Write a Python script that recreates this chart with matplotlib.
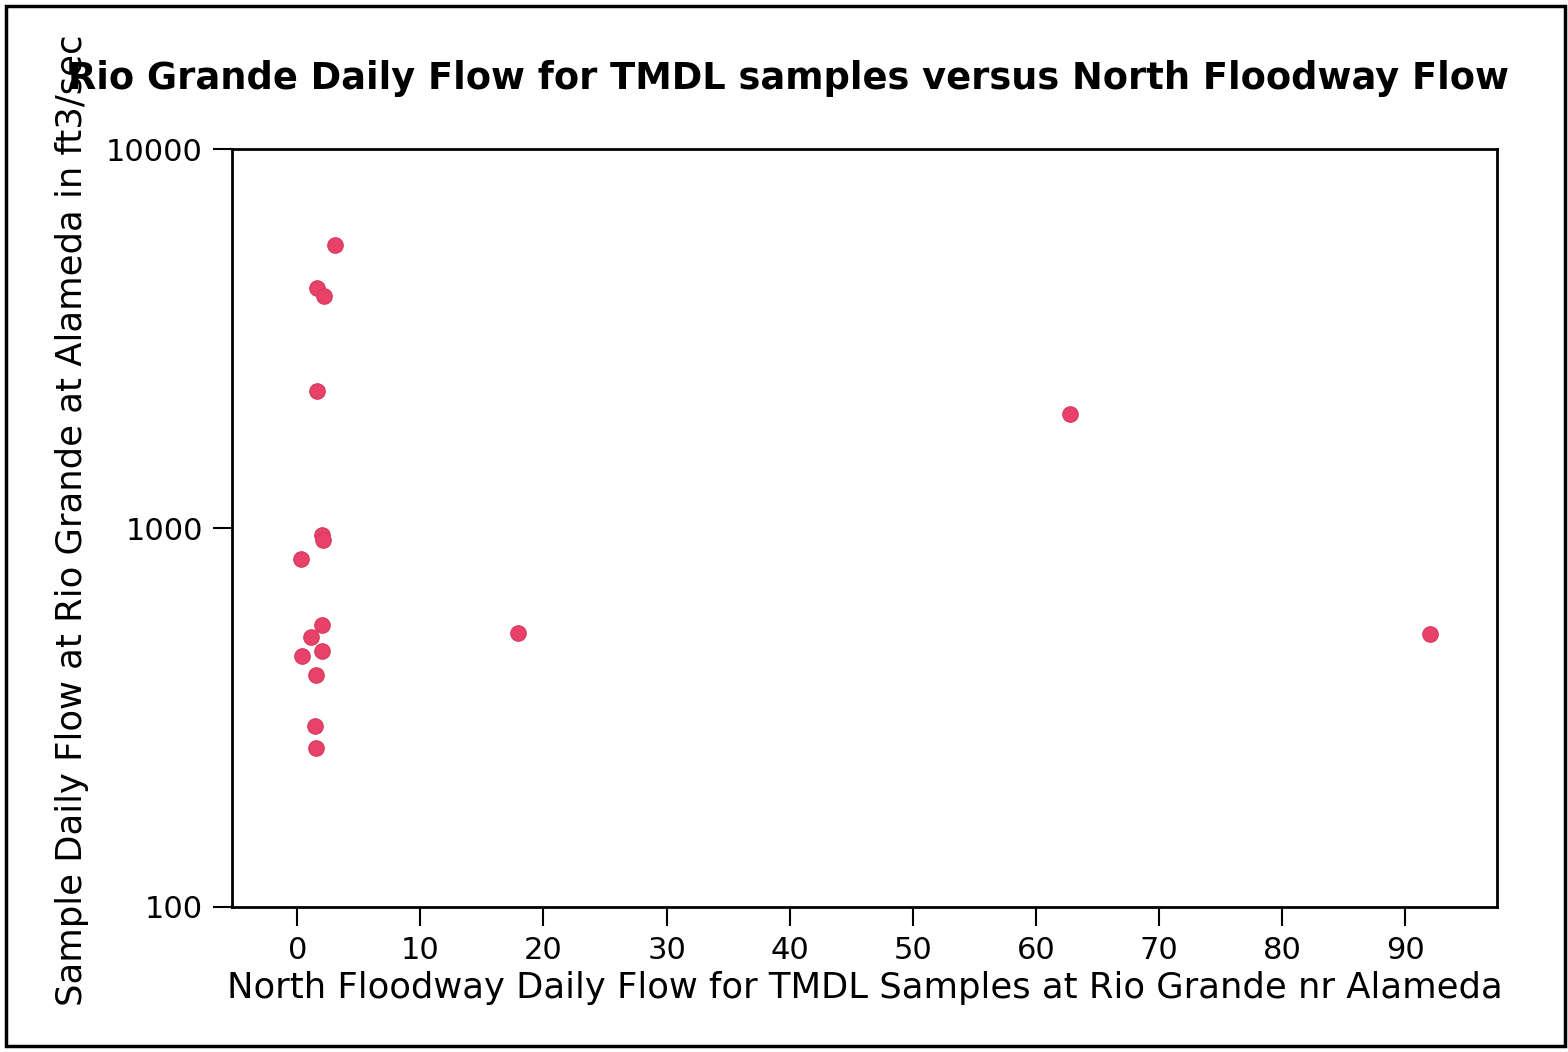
import matplotlib
matplotlib.use("Agg")
import matplotlib.pyplot as plt
from matplotlib.patches import Rectangle

# Data
north_floodway_flow = [3.1, 1.6, 2.2, 1.6, 62.8, 2.0, 2.1, 0.3, 2.0, 1.1, 0.4, 2.0, 1.5, 1.4, 1.5, 17.9, 92.0]
rio_grande_flow = [5600, 4300, 4100, 2300, 2000, 960, 930, 830, 555, 515, 460, 475, 410, 300, 262, 530, 525]

x_ticks = [0, 10, 20, 30, 40, 50, 60, 70, 80, 90]
y_ticks = [100, 1000, 10000]

fig = plt.figure(figsize=(15.68, 10.52), dpi=100)
ax = fig.add_axes([0.148, 0.138, 0.807, 0.72])

ax.scatter(north_floodway_flow, rio_grande_flow, s=125, color="#e8416a",
           edgecolors="#d63a5e", linewidths=0.8, zorder=3)

ax.set_yscale("log")
ax.set_ylim(100, 10000)
ax.set_xlim(-5.3, 97.5)
ax.set_xticks(x_ticks)
ax.set_xticklabels([str(t) for t in x_ticks])
ax.set_yticks(y_ticks)
ax.set_yticklabels([str(t) for t in y_ticks])
ax.yaxis.set_minor_locator(matplotlib.ticker.NullLocator())

ax.tick_params(axis="both", which="major", labelsize=22, length=14, width=1.5,
               direction="out", pad=7, color="black")
for sp in ax.spines.values():
    sp.set_linewidth(2)
    sp.set_color("black")

ax.set_xlabel("North Floodway Daily Flow for TMDL Samples at Rio Grande nr Alameda",
              fontsize=25.5, labelpad=4)
fig.text(0.046, 0.505, "Sample Daily Flow at Rio Grande at Alameda in ft3/sec",
         rotation=90, fontsize=25.5, ha="center", va="center")
fig.text(0.503, 0.925, "Rio Grande Daily Flow for TMDL samples versus North Floodway Flow",
         fontsize=26.5, fontweight="bold", ha="center", va="center")

# scan border around the figure
fig.patches.append(Rectangle((0.004, 0.006), 0.994, 0.988, transform=fig.transFigure,
                             fill=False, edgecolor="black", linewidth=2.5))

fig.savefig("out.png", dpi=100, facecolor="white")
